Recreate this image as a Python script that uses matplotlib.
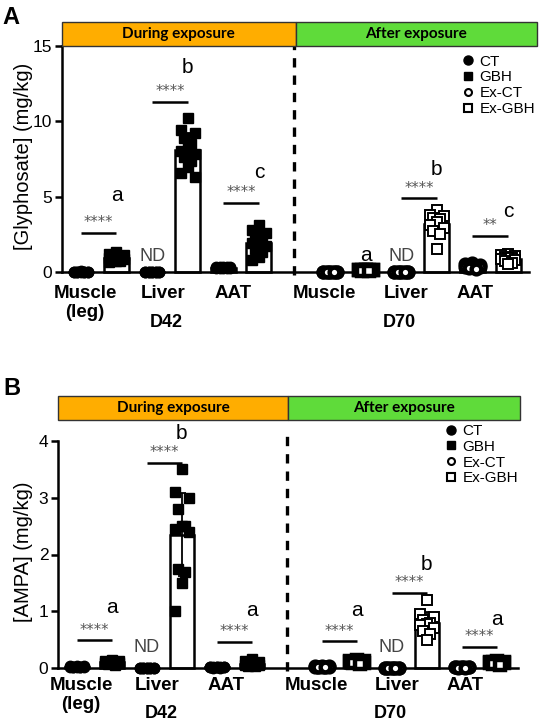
import numpy as np
import matplotlib
matplotlib.use("Agg")
import matplotlib.pyplot as plt
from matplotlib.lines import Line2D
from matplotlib.patches import Rectangle

plt.rcParams['font.family'] = ['Liberation Sans', 'DejaVu Sans']

tissues = ['Muscle', 'Liver', 'AAT']
legend_labels = ['CT', 'GBH', 'Ex-CT', 'Ex-GBH']
period_labels = ['During exposure', 'After exposure']
day_labels = ['D42', 'D70']

# individual values (mg/kg), one inner list per tissue: muscle, liver, AAT
gly_d42_ct = [[0.02, 0.03, 0.01, 0.02, 0.04, 0.02, 0.03, 0.01, 0.02, 0.03],
              [0.0, 0.0, 0.0, 0.0, 0.0, 0.0, 0.0, 0.0, 0.0, 0.0],
              [0.25, 0.32, 0.28, 0.35, 0.30, 0.27, 0.33, 0.29, 0.31, 0.26]]
gly_d42_gbh = [[1.3, 1.2, 1.15, 1.05, 1.0, 0.95, 0.9, 0.85, 0.8, 0.75, 0.7, 0.65],
               [10.2, 9.4, 9.2, 8.9, 8.5, 8.2, 8.0, 7.8, 7.6, 7.4, 7.0, 6.6, 6.3],
               [3.1, 2.8, 2.6, 2.4, 2.2, 2.0, 1.9, 1.7, 1.5, 1.3, 1.0, 0.8]]
gly_d70_ct = [[0.02, 0.01, 0.03, 0.02, 0.02, 0.01, 0.03, 0.02, 0.01, 0.02],
              [0.0, 0.0, 0.0, 0.0, 0.0, 0.0, 0.0, 0.0, 0.0, 0.0],
              [0.6, 0.5, 0.45, 0.4, 0.35, 0.35, 0.3, 0.3, 0.25, 0.2]]
gly_d70_gbh = [[0.15, 0.12, 0.1, 0.1, 0.09, 0.08, 0.11, 0.1, 0.12, 0.13],
               [4.1, 3.8, 3.7, 3.6, 3.5, 3.3, 3.1, 2.9, 2.7, 2.5, 1.5],
               [1.2, 1.1, 1.05, 1.0, 0.95, 0.9, 0.85, 0.8, 0.7, 0.6, 0.5]]

ampa_d42_ct = [[0.02, 0.03, 0.01, 0.02, 0.03, 0.02, 0.01, 0.02, 0.03, 0.02],
               [0.0, 0.0, 0.0, 0.0, 0.0, 0.0, 0.0, 0.0, 0.0, 0.0],
               [0.01, 0.01, 0.02, 0.01, 0.0, 0.01, 0.02, 0.01, 0.01, 0.0]]
ampa_d42_gbh = [[0.14, 0.13, 0.12, 0.11, 0.1, 0.1, 0.09, 0.08, 0.07, 0.06],
                [3.5, 3.1, 3.0, 2.8, 2.5, 2.5, 2.45, 2.4, 1.75, 1.7, 1.5, 1.0],
                [0.15, 0.12, 0.1, 0.09, 0.08, 0.07, 0.06, 0.05, 0.04, 0.03]]
ampa_d70_ct = [[0.03, 0.02, 0.02, 0.01, 0.03, 0.02, 0.02, 0.01, 0.02, 0.03],
               [0.0, 0.0, 0.0, 0.0, 0.0, 0.0, 0.0, 0.0, 0.0, 0.0],
               [0.01, 0.01, 0.0, 0.02, 0.01, 0.01, 0.0, 0.01, 0.02, 0.01]]
ampa_d70_gbh = [[0.14, 0.12, 0.11, 0.1, 0.1, 0.09, 0.08, 0.07, 0.1, 0.12],
                [1.2, 0.95, 0.9, 0.85, 0.8, 0.78, 0.75, 0.7, 0.65, 0.6, 0.5],
                [0.12, 0.1, 0.09, 0.08, 0.08, 0.07, 0.06, 0.1, 0.09, 0.11]]

# significance: (x1, x2, bar height, stars, letter, letter height)
gly_sig = [(0, 1, 2.6, '****', 'a', 5.1), (2, 3, 11.3, '****', 'b', 13.6),
           (4, 5, 4.6, '****', 'c', 6.6), (9, 10, 4.9, '****', 'b', 6.8),
           (11, 12, 2.4, '**', 'c', 4.0), (8, 8, None, '', 'a', 1.1)]
ampa_sig = [(0, 1, 0.49, '****', 'a', 1.07), (2, 3, 3.62, '****', 'b', 4.14),
            (4, 5, 0.46, '****', 'a', 1.02), (7, 8, 0.47, '****', 'a', 1.02),
            (9, 10, 1.33, '****', 'b', 1.82), (11, 12, 0.37, '****', 'a', 0.85)]

ORANGE = '#FFAD00'
GREEN = '#5FDB3A'

fig = plt.figure(figsize=(5.4, 7.25), dpi=100)


def spread(n):
    return np.resize([0.0, -0.2, 0.2, -0.1, 0.1], n)


def draw_panel(ax, bax, groups, sig, nd_y, ymax, ticks, ylabel, tissue_names,
               label_dy, leg_anchor, dash_top, ylab_x):
    markers = [dict(marker='o', mfc='k', mec='k', ms=7.5, mew=1),
               dict(marker='s', mfc='k', mec='k', ms=6.8, mew=1),
               dict(marker='o', mfc='white', mec='k', ms=7, mew=2.4),
               dict(marker='s', mfc='white', mec='k', ms=6.8, mew=1.4)]
    leg_markers = [dict(marker='o', mfc='k', mec='k', ms=6.5, mew=1),
                   dict(marker='s', mfc='k', mec='k', ms=6, mew=1),
                   dict(marker='o', mfc='white', mec='k', ms=5, mew=1.5),
                   dict(marker='s', mfc='white', mec='k', ms=6, mew=1.5)]
    for gi, (vals, mk) in enumerate(zip(groups, markers)):
        day, treat = divmod(gi, 2)
        for t, pts in enumerate(vals):
            x = 7 * day + 2 * t + treat
            pts = np.sort(np.array(pts))[::-1]
            m, sd = pts.mean(), pts.std(ddof=1)
            ax.bar(x, m, width=0.7, color='white', edgecolor='k', lw=1.8,
                   zorder=2, clip_on=False)
            if m > 0.5:
                ax.errorbar(x, m, yerr=sd, fmt='none', ecolor='k',
                            elinewidth=1.3, capsize=3, capthick=1.3, zorder=3)
            kw = dict(mk)
            if m < 0.5 and mk['mfc'] == 'white':
                kw['mew'] = 3.2
            ax.plot(x + spread(len(pts)), pts, ls='none', zorder=4,
                    clip_on=False, **kw)

    for x1, x2, h, stars, letter, ly in sig:
        if h is not None:
            ax.plot([x1, x2], [h, h], color='k', lw=1.8, solid_capstyle='butt')
            ax.annotate(stars, xy=((x1 + x2) / 2, h), xytext=(0, 4),
                        textcoords='offset points', ha='center', va='baseline',
                        fontsize=10.5, color='#555555', family='DejaVu Sans')
        ax.text(x2, ly, letter, ha='center', va='center', fontsize=15,
                clip_on=False)
    for x in (2, 9):
        ax.text(x, nd_y, 'ND', ha='center', va='center', fontsize=13,
                color='#444444')

    ax.axvline(6, ymin=-0.015, ymax=dash_top, color='k', lw=2.4,
               ls=(0, (2.8, 2.4)), clip_on=False, zorder=1)

    xl = ax.get_xlim()
    ax.set_ylim(0, ymax)
    ax.set_yticks(ticks)
    ax.spines[['top', 'right']].set_visible(False)
    ax.spines[['left', 'bottom']].set_linewidth(1.8)
    ax.spines['bottom'].set_bounds(xl[0], 12.6)
    ax.spines['left'].set_bounds(0, ticks[-1])
    ax.tick_params(axis='y', direction='out', length=5, width=1.8,
                   labelsize=12.5, pad=2)
    ax.tick_params(axis='x', bottom=False, labelbottom=False)
    ax.text(ylab_x, 0.51, ylabel, transform=ax.transAxes, rotation=90,
            ha='center', va='center', fontsize=14.5)

    label_x = [0.12, 2.3, 4.27, 6.84, 9.15, 11.08]
    for x, name in zip(label_x, tissue_names):
        ax.annotate(name, xy=(x, 0), xycoords=('data', 'axes fraction'),
                    xytext=(0, -label_dy), textcoords='offset points',
                    ha='center', va='top', fontsize=13.5, fontweight='bold',
                    linespacing=1.15, annotation_clip=False)
    for x, name in zip([2.4, 8.95], day_labels):
        ax.annotate(name, xy=(x, 0), xycoords=('data', 'axes fraction'),
                    xytext=(0, -label_dy - 20.5), textcoords='offset points',
                    ha='center', va='top', fontsize=13, fontweight='bold',
                    annotation_clip=False)

    handles = [Line2D([], [], ls='none', **mk) for mk in leg_markers]
    ax.legend(handles, legend_labels, loc='upper left', bbox_to_anchor=leg_anchor,
              frameon=False, fontsize=11, handlelength=0.8, handletextpad=0.35,
              labelspacing=0.12, borderpad=0, borderaxespad=0)

    bax.set_xlim(xl)
    bax.set_ylim(0, 1)
    bax.axis('off')
    for (x0, x1), col, txt in zip([(xl[0], 6.03), (6.03, xl[1])],
                                  [ORANGE, GREEN], period_labels):
        bax.add_patch(Rectangle((x0, 0), x1 - x0, 1, facecolor=col,
                                edgecolor='#333333', lw=1, clip_on=False))
        bax.text((x0 + x1) / 2, 0.48, txt, ha='center', va='center',
                 fontsize=11, fontweight='bold', family=['Lato', 'DejaVu Sans'])


# panel A
axA = fig.add_axes([62 / 540, 1 - 272 / 725, 475 / 540, 226 / 725])
axA.set_xlim(-0.53, -0.53 + 475 / 35.6)
banA = fig.add_axes([62 / 540, 1 - 46 / 725, 475 / 540, 24 / 725])
names_A = ['Muscle\n(leg)', 'Liver', 'AAT', 'Muscle', 'Liver', 'AAT']
draw_panel(axA, banA, [gly_d42_ct, gly_d42_gbh, gly_d70_ct, gly_d70_gbh],
           gly_sig, 1.05, 15, [0, 5, 10, 15], '[Glyphosate] (mg/kg)', names_A,
           9.4, (0.842, 0.962), 1.0, -0.08)

# panel B
axB = fig.add_axes([58 / 540, 1 - 668 / 725, 462 / 540, 227 / 725])
axB.set_xlim(-0.54, -0.54 + 462 / 35.0)
banB = fig.add_axes([58 / 540, 1 - 420 / 725, 462 / 540, 24 / 725])
names_B = ['Muscle\n(leg)', 'Liver', 'AAT', 'Muscle', 'Liver', 'AAT']
draw_panel(axB, banB, [ampa_d42_ct, ampa_d42_gbh, ampa_d70_ct, ampa_d70_gbh],
           ampa_sig, 0.36, 4, [0, 1, 2, 3, 4], '[AMPA] (mg/kg)', names_B,
           6.5, (0.838, 1.075), 1.05, -0.074)

fig.text(0.004, 1 - 6 / 725, 'A', ha='left', va='top', fontsize=17,
         fontweight='bold')
fig.text(0.006, 1 - 377 / 725, 'B', ha='left', va='top', fontsize=17,
         fontweight='bold')

fig.savefig('out.png', dpi=100)
